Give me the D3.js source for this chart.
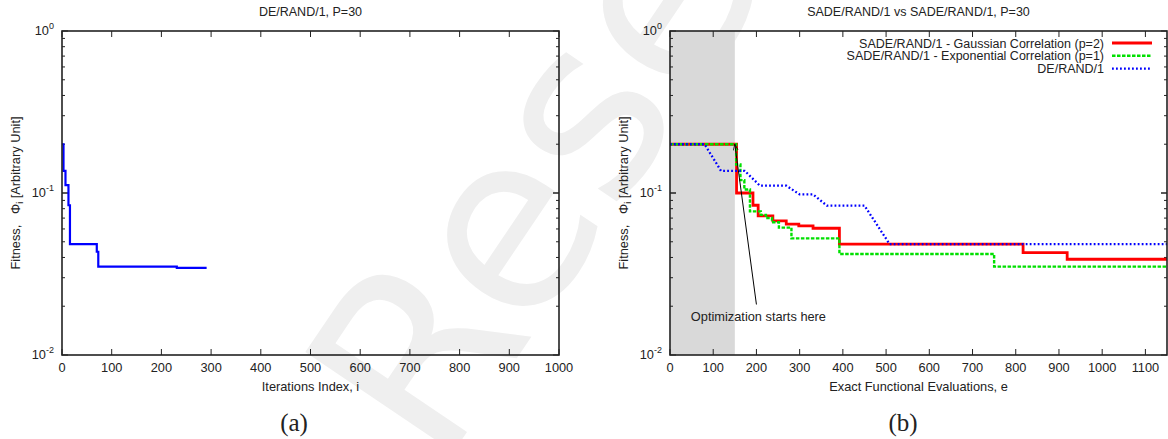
<!DOCTYPE html>
<html lang="en">
<head>
<meta charset="UTF-8">
<title>DE/RAND/1 vs SADE/RAND/1</title>
<script src="https://d3js.org/d3.v7.min.js"></script>
<style>
  body { margin: 0; background: #fff; }
  text { font-family: "Liberation Sans", Arial, sans-serif; fill: #222; }
  .caption { font-family: "Liberation Serif", "Times New Roman", serif; }
</style>
</head>
<body>
<div id="chart"></div>
<script>
// (a) DE/RAND/1 convergence, step curve
const leftIter = [0, 3, 7, 13, 16, 70, 73, 231, 291];
const leftFit  = [0.2, 0.137, 0.112, 0.084, 0.0484, 0.0434, 0.0351, 0.0345, 0.0345];

// (b) SADE Gaussian correlation (p=2), step curve
const redEval = [0, 154, 192, 204, 238, 269, 298, 331, 392, 817, 919, 1150];
const redFit  = [0.2, 0.1, 0.084, 0.0722, 0.0672, 0.0643, 0.0627, 0.0606, 0.0484, 0.0428, 0.039, 0.039];

// (b) SADE Exponential correlation (p=1), step curve
const greenEval = [0, 153, 163, 172, 185, 210, 222, 236, 252, 281, 392, 750, 1150];
const greenFit  = [0.2, 0.15, 0.12, 0.105, 0.077, 0.0733, 0.0701, 0.066, 0.0611, 0.0525, 0.042, 0.0351, 0.0351];

// (b) plain DE/RAND/1, linear between generations
const blueEval = [0, 80, 118, 173, 208, 269, 300, 331, 363, 450, 508, 1150];
const blueFit  = [0.2, 0.2, 0.137, 0.137, 0.111, 0.111, 0.098, 0.098, 0.0836, 0.0836, 0.0484, 0.0484];

const legendLabels = [
  "SADE/RAND/1 - Gaussian Correlation (p=2)",
  "SADE/RAND/1 - Exponential Correlation (p=1)",
  "DE/RAND/1"
];
const initPhase = [0, 150];          // grey band: initial sampling
const arrowFrom = [200, 0.0205];      // annotation arrow (data coords)
const arrowTo   = [150, 0.2];

const width = 1168, height = 439;
const plotTop = 31, plotBottom = 355;

const svg = d3.select("#chart").append("svg")
  .attr("width", width).attr("height", height);

const defs = svg.append("defs");
defs.append("marker")
  .attr("id", "head").attr("viewBox", "0 0 10 10")
  .attr("refX", 10).attr("refY", 5)
  .attr("markerWidth", 10).attr("markerHeight", 6)
  .attr("markerUnits", "userSpaceOnUse")
  .attr("orient", "auto")
  .append("path").attr("d", "M0,1 L10,5 L0,9").attr("fill", "none")
  .attr("stroke", "#000").attr("stroke-width", 1.2);

// faint watermark behind everything
svg.append("text")
  .attr("transform", "translate(440,472) rotate(-56)")
  .style("font-family", "'DejaVu Sans', sans-serif")
  .style("font-size", "245px")
  .style("fill", "#efefef")
  .text("Rese");

const y = d3.scaleLog().domain([0.01, 1]).range([plotBottom, plotTop]);

function drawPanel(p) {
  const x = d3.scaleLinear().domain(p.domain).range([p.left, p.right]);
  const g = svg.append("g");

  if (p.shade) {
    g.append("rect")
      .attr("x", x(p.shade[0])).attr("y", plotTop)
      .attr("width", x(p.shade[1]) - x(p.shade[0]))
      .attr("height", plotBottom - plotTop)
      .attr("fill", "#d9d9d9");
  }

  // ticks, pointing inward on all four sides
  const ticks = g.append("g").attr("stroke", "#222").attr("stroke-width", 1);
  d3.range(p.domain[0], p.domain[1] + 1, 100).forEach(v => {
    ticks.append("line").attr("x1", x(v)).attr("x2", x(v)).attr("y1", plotBottom).attr("y2", plotBottom - 6);
    ticks.append("line").attr("x1", x(v)).attr("x2", x(v)).attr("y1", plotTop).attr("y2", plotTop + 6);
  });
  [0.01, 0.1].forEach(dec => {
    d3.range(1, 11).forEach(m => {
      const v = dec * m;
      if (v > 1.0001) return;
      const len = (m === 1 || m === 10) ? 6 : 3;
      ticks.append("line").attr("x1", p.left).attr("x2", p.left + len).attr("y1", y(v)).attr("y2", y(v));
      ticks.append("line").attr("x1", p.right).attr("x2", p.right - len).attr("y1", y(v)).attr("y2", y(v));
    });
  });

  // tick labels
  d3.range(p.domain[0], p.domain[1] + 1, 100).forEach(v => {
    g.append("text").attr("x", x(v)).attr("y", plotBottom + 17)
      .attr("text-anchor", "middle").style("font-size", "12.8px").text(v);
  });
  [0, -1, -2].forEach(e => {
    const t = g.append("text").attr("x", p.left - 8).attr("y", y(Math.pow(10, e)) + 4)
      .attr("text-anchor", "end").style("font-size", "12.8px");
    t.append("tspan").text("10");
    t.append("tspan").attr("dy", -6).style("font-size", "9px").text(e);
  });

  // titles
  const cx = (p.left + p.right) / 2;
  g.append("text").attr("x", cx).attr("y", 16).attr("text-anchor", "middle")
    .style("font-size", "12.5px").text(p.title);
  g.append("text").attr("x", cx).attr("y", 391).attr("text-anchor", "middle")
    .style("font-size", "12.8px").text(p.xLabel);
  const yl = g.append("text")
    .attr("transform", `translate(${p.left - 42},${(plotTop + plotBottom) / 2}) rotate(-90)`)
    .attr("text-anchor", "middle").style("font-size", "12.8px");
  yl.append("tspan").text("Fitness,\u00a0\u00a0\u00a0\u03a6");
  yl.append("tspan").attr("dy", 3).style("font-size", "9px").text("i");
  yl.append("tspan").attr("dy", -3).text("\u00a0[Arbitrary Unit]");
  g.append("text").attr("class", "caption").attr("x", p.caption).attr("y", 431)
    .attr("text-anchor", "middle").style("font-size", "25px").text(p.tag);

  // series
  const clipId = "clip" + p.tag.replace(/\W/g, "");
  defs.append("clipPath").attr("id", clipId)
    .append("rect").attr("x", p.left).attr("y", plotTop)
    .attr("width", p.right - p.left).attr("height", plotBottom - plotTop);
  const plot = g.append("g").attr("clip-path", `url(#${clipId})`);
  p.series.forEach(s => {
    const line = d3.line().x(d => x(d[0])).y(d => y(d[1])).curve(s.curve);
    plot.append("path").datum(d3.zip(s.xs, s.ys))
      .attr("fill", "none").attr("stroke", s.color)
      .attr("stroke-width", s.width)
      .attr("stroke-dasharray", s.dash || null)
      .attr("d", line);
  });

  // frame
  g.append("rect").attr("x", p.left).attr("y", plotTop)
    .attr("width", p.right - p.left).attr("height", plotBottom - plotTop)
    .attr("fill", "none").attr("stroke", "#222").attr("stroke-width", 1.6);

  return x;
}

drawPanel({
  left: 62, right: 559, domain: [0, 1000],
  title: "DE/RAND/1, P=30", xLabel: "Iterations Index, i",
  tag: "(a)", caption: 294,
  series: [{ xs: leftIter, ys: leftFit, color: "#0000ff", width: 2.2, curve: d3.curveStepAfter }]
});

const seriesB = [
  { xs: redEval, ys: redFit, color: "#ff0000", width: 2.8, curve: d3.curveStepAfter },
  { xs: greenEval, ys: greenFit, color: "#00e000", width: 2.4, dash: "3.5,1.5", curve: d3.curveStepAfter },
  { xs: blueEval, ys: blueFit, color: "#0000ff", width: 2.3, dash: "1.8,2.2", curve: d3.curveLinear }
];

const xb = drawPanel({
  left: 670, right: 1167, domain: [0, 1150],
  title: "SADE/RAND/1 vs SADE/RAND/1, P=30", xLabel: "Exact Functional Evaluations, e",
  tag: "(b)", caption: 903, shade: initPhase,
  series: seriesB
});

// annotation
svg.append("line")
  .attr("x1", xb(arrowFrom[0])).attr("y1", y(arrowFrom[1]))
  .attr("x2", xb(arrowTo[0])).attr("y2", y(arrowTo[1]))
  .attr("stroke", "#000").attr("stroke-width", 1)
  .attr("marker-end", "url(#head)");
svg.append("text").attr("x", xb(arrowFrom[0]) + 2).attr("y", y(arrowFrom[1]) + 17)
  .attr("text-anchor", "middle").style("font-size", "12.8px")
  .text("Optimization starts here");

// legend
const legend = svg.append("g");
legendLabels.forEach((label, i) => {
  const ly = 43 + i * 12.8;
  legend.append("text").attr("x", 1104).attr("y", ly + 4.5)
    .attr("text-anchor", "end").style("font-size", "12.5px").text(label);
  legend.append("line").attr("x1", 1112).attr("x2", 1152).attr("y1", ly).attr("y2", ly)
    .attr("stroke", seriesB[i].color).attr("stroke-width", seriesB[i].width)
    .attr("stroke-dasharray", seriesB[i].dash || null);
});
</script>
</body>
</html>
